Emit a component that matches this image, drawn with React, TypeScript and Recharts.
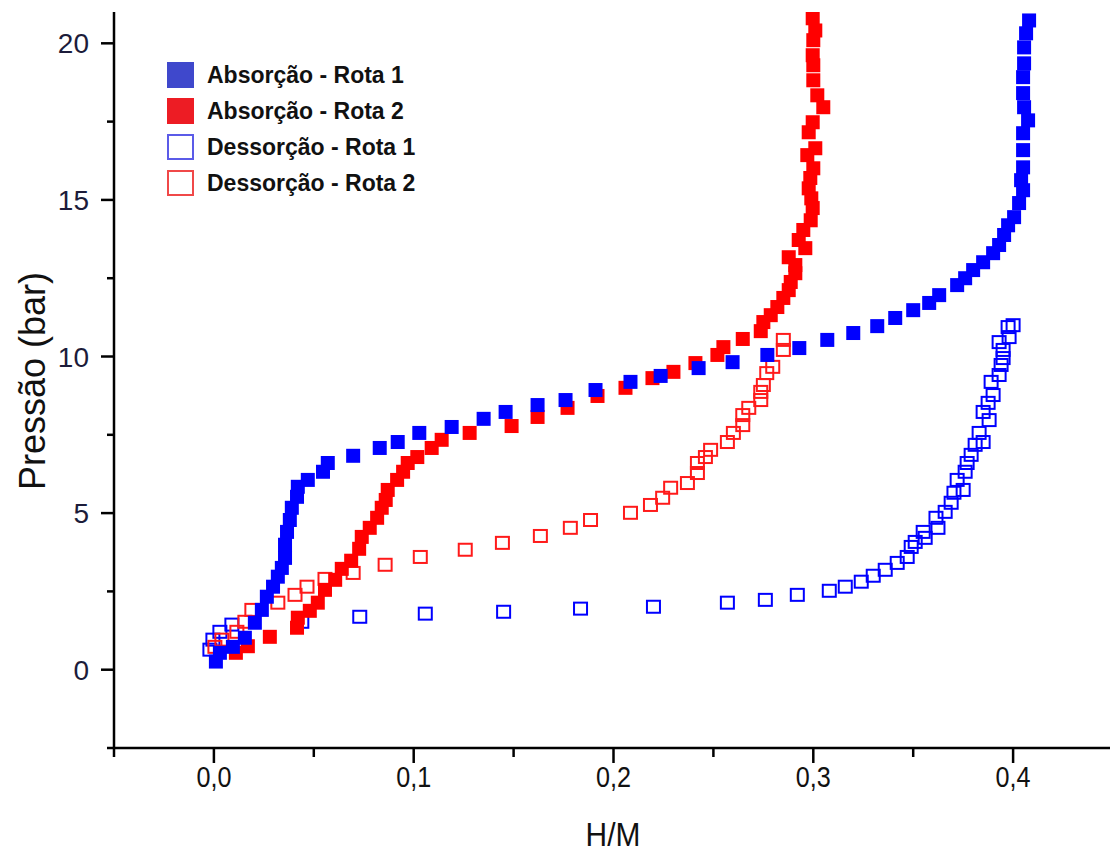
import { ScatterChart, Scatter, XAxis, YAxis, Label } from 'recharts'

// H/M vs pressure (bar), read as [h, p] pairs
const absRota1: [number, number][] = [
  [0.001, 0.26], [0.003, 0.54], [0.0095, 0.73], [0.0155, 1.02], [0.0205, 1.5], [0.024, 1.91],
  [0.0265, 2.33], [0.0296, 2.65], [0.032, 2.97], [0.034, 3.25], [0.0356, 3.57], [0.0356, 3.99],
  [0.0366, 4.4], [0.038, 4.78], [0.039, 5.17], [0.0416, 5.52], [0.042, 5.84], [0.047, 6.06],
  [0.0546, 6.32], [0.057, 6.6], [0.0697, 6.83], [0.083, 7.08], [0.092, 7.27], [0.1028, 7.56],
  [0.119, 7.75], [0.135, 8.01], [0.146, 8.23], [0.162, 8.45], [0.176, 8.61], [0.191, 8.93],
  [0.2085, 9.19], [0.2236, 9.38], [0.2426, 9.63], [0.2596, 9.82], [0.277, 10.05], [0.293, 10.27],
  [0.307, 10.53], [0.32, 10.75], [0.332, 10.97], [0.341, 11.23], [0.35, 11.48], [0.358, 11.71],
  [0.363, 11.96], [0.372, 12.28], [0.376, 12.5], [0.38, 12.76], [0.385, 13.01], [0.39, 13.3],
  [0.393, 13.56], [0.3955, 13.88], [0.3975, 14.19], [0.4005, 14.45], [0.403, 14.9], [0.405, 15.31],
  [0.404, 15.63], [0.405, 16.04], [0.405, 16.59], [0.405, 17.13], [0.4075, 17.54], [0.4055, 17.96],
  [0.405, 18.41], [0.405, 18.92], [0.4055, 19.36], [0.4055, 19.87], [0.4065, 20.32], [0.408, 20.73],
]

const absRota2: [number, number][] = [
  [0.011, 0.54], [0.017, 0.75], [0.028, 1.05], [0.0416, 1.34], [0.042, 1.66], [0.048, 1.88],
  [0.052, 2.14], [0.0556, 2.55], [0.0607, 2.87], [0.064, 3.22], [0.0687, 3.48], [0.0727, 3.86],
  [0.074, 4.24], [0.078, 4.53], [0.0817, 4.85], [0.084, 5.17], [0.086, 5.42], [0.087, 5.74],
  [0.0917, 6.06], [0.0947, 6.32], [0.097, 6.6], [0.1018, 6.79], [0.109, 7.08], [0.114, 7.34],
  [0.128, 7.56], [0.149, 7.78], [0.162, 8.07], [0.177, 8.36], [0.192, 8.74], [0.206, 9.0],
  [0.2195, 9.31], [0.23, 9.51], [0.241, 9.79], [0.252, 10.05], [0.255, 10.3], [0.2647, 10.56],
  [0.2737, 10.81], [0.275, 11.1], [0.2787, 11.32], [0.282, 11.58], [0.285, 11.87], [0.2877, 12.12],
  [0.2887, 12.38], [0.291, 12.66], [0.291, 12.92], [0.2877, 13.17], [0.296, 13.46], [0.2927, 13.72],
  [0.295, 14.04], [0.2987, 14.35], [0.2997, 14.74], [0.299, 15.05], [0.2977, 15.37], [0.2985, 15.7],
  [0.3, 16.01], [0.297, 16.43], [0.301, 16.65], [0.2977, 17.16], [0.2997, 17.48], [0.305, 17.96],
  [0.302, 18.34], [0.3, 18.82], [0.3, 19.3], [0.2997, 19.62], [0.3, 20.1], [0.301, 20.41], [0.2997, 20.8],
]

const dessRota1: [number, number][] = [
  [-0.002, 0.64], [-0.0005, 0.96], [0.003, 1.21], [0.009, 1.44], [0.044, 1.53], [0.073, 1.69],
  [0.1058, 1.79], [0.145, 1.85], [0.1835, 1.95], [0.22, 2.01], [0.257, 2.14], [0.276, 2.23],
  [0.292, 2.39], [0.308, 2.52], [0.316, 2.65], [0.324, 2.81], [0.33, 3.0], [0.336, 3.19],
  [0.342, 3.41], [0.347, 3.6], [0.349, 3.92], [0.351, 4.08], [0.356, 4.21], [0.355, 4.4],
  [0.3624, 4.53], [0.3614, 4.85], [0.366, 5.04], [0.369, 5.33], [0.3704, 5.65], [0.375, 5.74],
  [0.372, 6.06], [0.376, 6.32], [0.377, 6.6], [0.379, 6.86], [0.381, 7.18], [0.385, 7.27],
  [0.383, 7.56], [0.388, 7.97], [0.385, 8.23], [0.3875, 8.52], [0.39, 8.77], [0.389, 9.19],
  [0.393, 9.41], [0.394, 9.73], [0.395, 9.95], [0.395, 10.21], [0.393, 10.46], [0.398, 10.62],
  [0.3975, 10.94], [0.4, 11.0],
]

const dessRota2: [number, number][] = [
  [0.0005, 0.73], [0.004, 0.96], [0.0115, 1.21], [0.0155, 1.53], [0.019, 1.91], [0.032, 2.14],
  [0.0406, 2.39], [0.0466, 2.65], [0.0556, 2.9], [0.0697, 3.09], [0.0857, 3.35], [0.1033, 3.6],
  [0.1258, 3.83], [0.1444, 4.05], [0.1634, 4.27], [0.1784, 4.53], [0.1885, 4.78], [0.2085, 5.01],
  [0.2185, 5.26], [0.2246, 5.49], [0.2286, 5.81], [0.237, 5.96], [0.242, 6.28], [0.242, 6.6],
  [0.246, 6.79], [0.2486, 7.02], [0.257, 7.27], [0.26, 7.56], [0.2647, 7.81], [0.2647, 8.13],
  [0.2677, 8.36], [0.2737, 8.61], [0.2737, 8.87], [0.275, 9.09], [0.2767, 9.47], [0.2797, 9.67],
  [0.285, 10.21], [0.285, 10.53],
]

const hmTicks = [-0.05, 0, 0.05, 0.1, 0.15, 0.2, 0.25, 0.3, 0.35, 0.4, 0.45]
const hmMajor = [0, 0.1, 0.2, 0.3, 0.4]
const pTicks = [-2.5, 0, 2.5, 5, 7.5, 10, 12.5, 15, 17.5, 20]
const pMajor = [0, 5, 10, 15, 20]

const toPoints = (rows: [number, number][]) => rows.map(([h, p]) => ({ h, p }))

const series = [
  { name: 'Absorção - Rota 1', rows: absRota1, color: '#0000ff', key: '#3f48cc', filled: true },
  { name: 'Absorção - Rota 2', rows: absRota2, color: '#ff0000', key: '#ed1c24', filled: true },
  { name: 'Dessorção - Rota 1', rows: dessRota1, color: '#0000ff', key: '#5b5be8', filled: false },
  { name: 'Dessorção - Rota 2', rows: dessRota2, color: '#ff1a1a', key: '#f04848', filled: false },
]
// hollow markers go underneath, blue filled on top
const drawOrder = [2, 3, 1, 0]

const isMajor = (list: number[], v: number) => list.some((m) => Math.abs(m - v) < 1e-9)
const AXIS = '#000'
const W = 2.5
const SANS = "'Liberation Sans', Arial, sans-serif"

function HmTick({ x, y, payload }: any) {
  const v = payload.value
  const major = isMajor(hmMajor, v)
  return (
    <g>
      <line x1={x} x2={x} y1={y} y2={y + (major ? 15 : 9)} stroke={AXIS} strokeWidth={W} />
      {major && (
        // condensed digits under the axis
        <text transform={`translate(${x},${y + 39}) scale(0.84,1)`} textAnchor="middle" fontSize={30}
          fill="#111" fontFamily={SANS}>
          {v.toFixed(1).replace('.', ',')}
        </text>
      )}
    </g>
  )
}

function PTick({ x, y, payload }: any) {
  const v = payload.value
  const major = isMajor(pMajor, v)
  return (
    <g>
      <line x1={x} x2={x - (major ? 13 : 7)} y1={y} y2={y} stroke={AXIS} strokeWidth={W} />
      {major && (
        <text x={x - 25} y={y + 10} textAnchor="end" fontSize={28} fill="#1c1c3a" fontFamily={SANS}>
          {v}
        </text>
      )}
    </g>
  )
}

const square = (color: string, filled: boolean) => (props: any) =>
  filled ? (
    <rect x={props.cx - 7} y={props.cy - 7} width={14} height={14} fill={color} />
  ) : (
    <rect x={props.cx - 6.5} y={props.cy - 6} width={13} height={12} fill="none" stroke={color} strokeWidth={2} />
  )

function KeyBox() {
  return (
    <div style={{ position: 'absolute', left: 167, top: 57, fontFamily: SANS }}>
      {series.map((s) => (
        <div key={s.name} style={{ display: 'flex', alignItems: 'center', height: 36 }}>
          <span
            style={{
              display: 'inline-block', width: 27, height: 26, boxSizing: 'border-box',
              background: s.filled ? s.key : '#fff', border: s.filled ? 'none' : `2px solid ${s.key}`,
            }}
          />
          <span style={{ marginLeft: 13, fontSize: 23, fontWeight: 'bold', color: '#111' }}>{s.name}</span>
        </div>
      ))}
    </div>
  )
}

export default function App() {
  return (
    <div style={{ position: 'absolute', left: 0, top: 0, width: 1110, height: 855, overflow: 'hidden', background: '#fff' }}>
      <ScatterChart width={1113} height={855} margin={{ top: 12, right: 0, bottom: 0, left: 0 }}>
        <XAxis
          type="number" dataKey="h" domain={[-0.05, 0.45]} ticks={hmTicks} interval={0} allowDataOverflow
          height={107} tickSize={0} tickMargin={0} tickLine={false} tick={<HmTick />}
          axisLine={{ stroke: AXIS, strokeWidth: W }}
        >
          <Label
            content={() => (
              <text transform="translate(613,846) scale(0.88,1)" textAnchor="middle" fontSize={34} fill="#111"
                fontFamily={SANS}>
                H/M
              </text>
            )}
          />
        </XAxis>
        <YAxis
          type="number" dataKey="p" domain={[-2.5, 21]} ticks={pTicks} interval={0} allowDataOverflow
          width={114} tickSize={0} tickMargin={0} tickLine={false} tick={<PTick />}
          axisLine={{ stroke: AXIS, strokeWidth: W }}
        >
          <Label
            content={() => (
              <text transform="translate(45,381) rotate(-90)" textAnchor="middle" fontSize={36} fill="#111"
                fontFamily={SANS}>
                Pressão (bar)
              </text>
            )}
          />
        </YAxis>
        {drawOrder.map((i) => {
          const s = series[i]
          return (
            <Scatter
              key={s.name} name={s.name} data={toPoints(s.rows)}
              shape={square(s.color, s.filled)} isAnimationActive={false}
            />
          )
        })}
      </ScatterChart>
      <KeyBox />
    </div>
  )
}
